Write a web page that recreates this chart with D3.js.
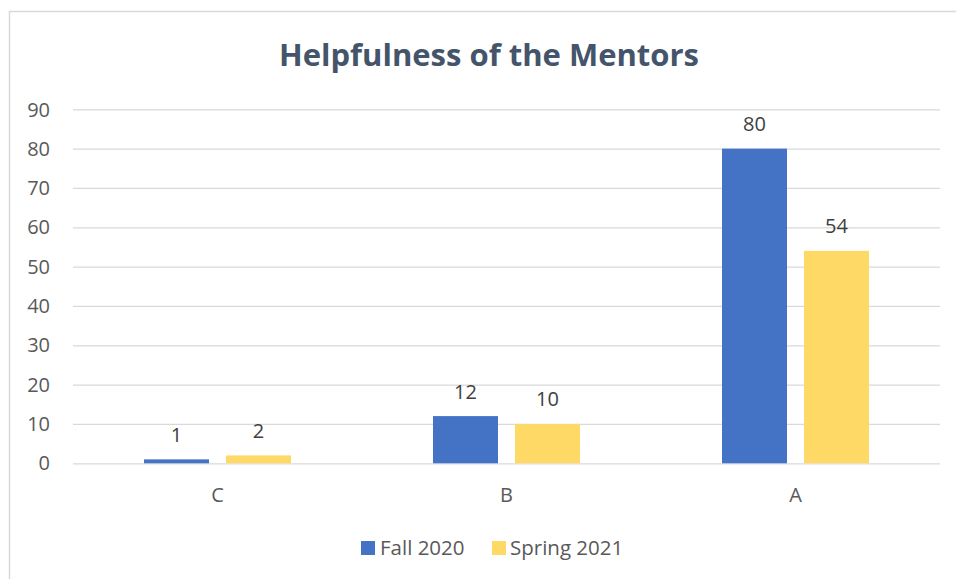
<!DOCTYPE html>
<html>
<head>
<meta charset="utf-8">
<script src="https://cdn.jsdelivr.net/npm/d3@7"></script>
<style>
  body { margin: 0; background: #fff; }
  svg { display: block; font-family: "Open Sans", sans-serif; }
</style>
</head>
<body>
<div id="chart"></div>
<script>
const categories = ['C', 'B', 'A']
const seriesNames = ['Fall 2020', 'Spring 2021']
const fall2020 = [1, 12, 80]
const spring2021 = [2, 10, 54]
const yTicks = [0, 10, 20, 30, 40, 50, 60, 70, 80, 90]
const colors = ['#4472C4', '#FFD966']

const W = 956, H = 579
const margin = { top: 109.3, right: 16, bottom: 115.7, left: 73 }
const width = W - margin.left - margin.right,
    height = H - margin.top - margin.bottom

const svg = d3.select('#chart').append('svg')
    .attr('width', W)
    .attr('height', H)

// chart frame (only left/top edges visible)
svg.append('rect')
    .attr('x', 9.5).attr('y', 11.5)
    .attr('width', 1200).attr('height', 1200)
    .attr('fill', 'none')
    .attr('stroke', '#d9d9d9')
    .attr('stroke-width', 1.5)

svg.append('text')
    .attr('x', 489).attr('y', 66)
    .attr('text-anchor', 'middle')
    .attr('font-size', 31)
    .attr('font-weight', 'bold')
    .attr('fill', '#44546A')
    .text('Helpfulness of the Mentors')

const g = svg.append('g')
    .attr('transform', 'translate(' + margin.left + ',' + margin.top + ')')

const y = d3.scaleLinear().domain([0, 90]).range([height, 0])

const x0 = d3.scaleBand().domain(categories).range([0, width])
const groupW = 147
const x1 = d3.scaleBand().domain(seriesNames)
    .range([(x0.bandwidth() - groupW) / 2, (x0.bandwidth() + groupW) / 2])
    .paddingInner(17 / 82)

// grid
g.append('g')
    .call(d3.axisLeft(y).tickValues(yTicks).tickSize(-width).tickFormat(''))
    .call(a => {
        a.select('.domain').remove()
        a.selectAll('.tick line').attr('stroke', '#d9d9d9').attr('stroke-width', 1.3)
    })

// y labels
g.append('g').selectAll('text')
    .data(yTicks)
    .enter().append('text')
    .attr('x', -23).attr('y', d => y(d) + 7.2)
    .attr('text-anchor', 'end')
    .attr('font-size', 20)
    .attr('fill', '#595959')
    .text(d => d)

// x labels
g.append('g').selectAll('text')
    .data(categories)
    .enter().append('text')
    .attr('x', d => x0(d) + x0.bandwidth() / 2)
    .attr('y', height + 39)
    .attr('text-anchor', 'middle')
    .attr('font-size', 20)
    .attr('fill', '#595959')
    .text(d => d)

const rows = categories.map((c, i) => ({
    cat: c,
    vals: [{ s: seriesNames[0], v: fall2020[i], c: colors[0] },
           { s: seriesNames[1], v: spring2021[i], c: colors[1] }]
}))

const groups = g.selectAll('.grp')
    .data(rows)
    .enter().append('g')
    .attr('class', 'grp')
    .attr('transform', d => 'translate(' + x0(d.cat) + ',0)')

groups.selectAll('rect')
    .data(d => d.vals)
    .enter().append('rect')
    .attr('x', d => x1(d.s))
    .attr('y', d => y(d.v))
    .attr('width', x1.bandwidth())
    .attr('height', d => height - y(d.v))
    .attr('fill', d => d.c)

groups.selectAll('.val')
    .data(d => d.vals)
    .enter().append('text')
    .attr('class', 'val')
    .attr('x', d => x1(d.s) + x1.bandwidth() / 2)
    .attr('y', d => y(d.v) - 17.5)
    .attr('text-anchor', 'middle')
    .attr('font-size', 20)
    .attr('fill', '#404040')
    .text(d => d.v)

// legend
const legend = svg.append('g')
const items = [{ x: 361, tx: 380 }, { x: 492, tx: 510 }]
seriesNames.forEach((s, i) => {
    legend.append('rect')
        .attr('x', items[i].x).attr('y', 541)
        .attr('width', 14).attr('height', 14)
        .attr('fill', colors[i])
    legend.append('text')
        .attr('x', items[i].tx).attr('y', 555)
        .attr('font-size', 20.5)
        .attr('fill', '#595959')
        .text(s)
})
</script>
</body>
</html>
